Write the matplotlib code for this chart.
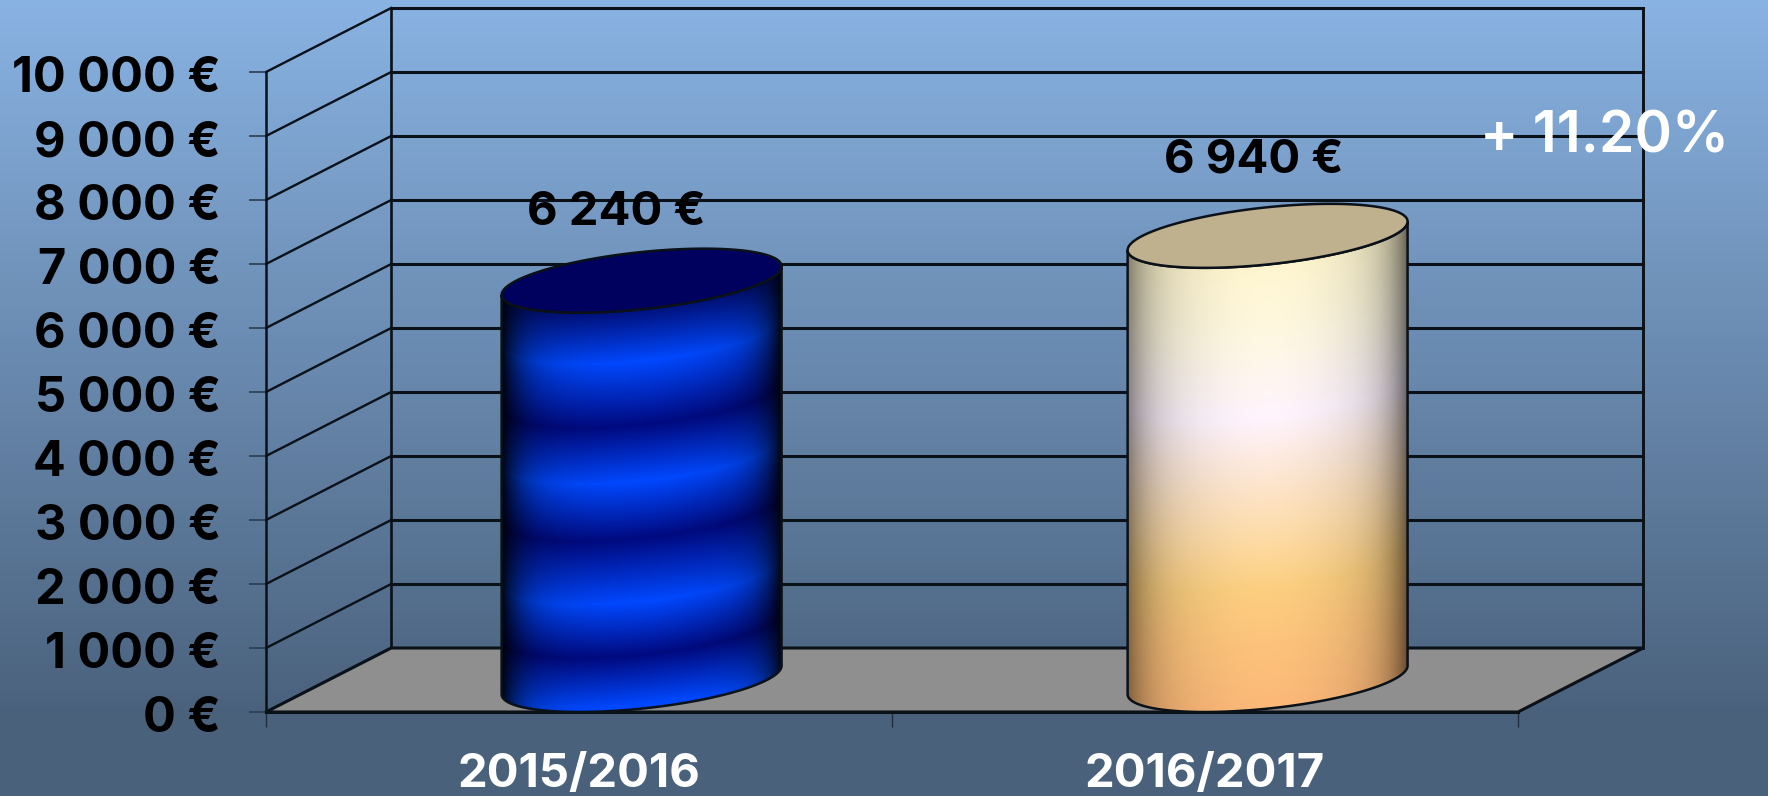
import numpy as np
import matplotlib
matplotlib.use('Agg')
import matplotlib.pyplot as plt
from matplotlib.patches import Polygon
from matplotlib.colors import to_rgb
from matplotlib.transforms import Affine2D

periods = ['2015/2016', '2016/2017']
amounts = [6240, 6940]
amount_labels = ['6 240 €', '6 940 €']
y_ticks = [0, 1000, 2000, 3000, 4000, 5000, 6000, 7000, 8000, 9000, 10000]
y_tick_labels = ['0 €', '1 000 €', '2 000 €', '3 000 €', '4 000 €', '5 000 €',
                 '6 000 €', '7 000 €', '8 000 €', '9 000 €', '10 000 €']
growth_label = '+ 11.20%'

W, H = 1768, 796
DEPTH_X, DEPTH_Y = 0.2, 1000   # oblique offset of the back wall, in data units
RADIUS = 0.2                   # half width of the cylinder base
LINE = '#0a1118'
plt.rcParams['font.family'] = ['Inter', 'DejaVu Sans']

# colour ramps, position along the cylinder then colour
blue_ramp = [(0.00, '#00107a'), (0.13, '#0048ff'), (0.29, '#000a80'), (0.43, '#0048ff'),
             (0.573, '#000a80'), (0.732, '#0048ff'), (0.866, '#000a80'), (0.99, '#0048ff'), (1.00, '#0048ff')]
cream_ramp = [(0.00, '#fff6cf'), (0.155, '#fff8e0'), (0.346, '#fff4fe'), (0.46, '#fde8d8'),
              (0.61, '#fedca8'), (0.73, '#fccf80'), (0.84, '#fdc47c'), (1.00, '#fbb878')]


def ramp_colours(ramp, s):
    pos = [r[0] for r in ramp]
    rgb = np.array([to_rgb(r[1]) for r in ramp])
    return np.stack([np.interp(s, pos, rgb[:, i]) for i in range(3)], axis=-1)


def ring(cx, cy, t):
    # circle lying on the floor plane, seen in the oblique projection
    x = cx + RADIUS * np.cos(t) + DEPTH_X / 2 * np.sin(t)
    y = cy + DEPTH_Y / 2 * np.sin(t)
    return x, y


def draw_cylinder(ax, pos, value, ramp, top_colour, wide, edge_left, edge_right):
    cx = pos + DEPTH_X / 2
    y0 = DEPTH_Y / 2
    y1 = y0 + value
    t0 = np.arctan2(DEPTH_X / 2, RADIUS)
    half = np.hypot(RADIUS, DEPTH_X / 2)
    tf = np.linspace(t0 - np.pi, t0, 200)   # front half of the ring, left to right

    bx, by = ring(cx, y0, tf)
    tx, ty = ring(cx, y1, tf)
    outline = np.r_[np.c_[bx, by], np.c_[tx[::-1], ty[::-1]]]

    # shaded side: colour follows the height above the front curve
    nx, ny = 300, 700
    xs = np.linspace(cx - half, cx + half, nx)
    ys = np.linspace(y0 - DEPTH_Y / 2, y1 + DEPTH_Y / 2, ny)
    xx, yy = np.meshgrid(xs, ys)
    front = np.interp(xx, bx, by) - y0
    s = np.clip(1 - (yy - y0 - front) / value, 0, 1)
    u = (xx - cx) / half
    edge = np.where(u < 0, edge_left, edge_right)
    shade = np.clip(1 - wide * u ** 2 - edge * np.abs(u) ** 7, 0, 1)
    img = ramp_colours(ramp, s) * shade[..., None]
    im = ax.imshow(img, extent=(xs[0], xs[-1], ys[0], ys[-1]), origin='lower',
                   aspect='auto', zorder=3, interpolation='bilinear')
    side = Polygon(outline, closed=True, transform=ax.transData, facecolor='none', edgecolor=LINE, lw=1.8, zorder=4)
    ax.add_patch(side)
    im.set_clip_path(side)
    side.set_clip_on(False)

    tt = np.linspace(0, 2 * np.pi, 300)
    topx, topy = ring(cx, y1, tt)
    ax.add_patch(Polygon(np.c_[topx, topy], closed=True, facecolor=top_colour, edgecolor=LINE, lw=1.8,
                         zorder=5, clip_on=False))


fig = plt.figure(figsize=(W / 100, H / 100), dpi=100)

# page background
bg = fig.add_axes([0, 0, 1, 1], zorder=0)
bg_pos = [0, 0.9, 1]
bg_top = np.array(to_rgb('#89b3e3'))
bg_bot = np.array(to_rgb('#4a617c'))
grad = np.linspace(0, 1, 796)
grad = np.interp(grad, bg_pos, [0, 1, 1])[:, None, None] * (bg_bot - bg_top) + bg_top
bg.imshow(grad, aspect='auto', extent=(0, 1, 0, 1))
bg.axis('off')

# main axes is the front plane of the chart
ax = fig.add_axes([266 / W, 1 - 712 / H, 1252 / W, 640 / H], zorder=1)
ax.patch.set_alpha(0)
ax.set_xlim(0, len(periods))
ax.set_ylim(0, 10000)
for sp in ax.spines.values():
    sp.set_visible(False)

xr = len(periods)
ax.add_patch(Polygon([(0, 0), (xr, 0), (xr + DEPTH_X, DEPTH_Y), (DEPTH_X, DEPTH_Y)], closed=True,
                     facecolor='#8f8f8f', edgecolor=LINE, lw=2.2, zorder=2, clip_on=False))
for v in y_ticks:
    if v > 0:
        ax.plot([DEPTH_X, xr + DEPTH_X], [v + DEPTH_Y] * 2, color=LINE, lw=2.2, zorder=1, clip_on=False)
    ax.plot([0, DEPTH_X], [v, v + DEPTH_Y], color=LINE, lw=1.7, zorder=1, clip_on=False)
ax.plot([0, 0], [0, 10000], color=LINE, lw=1.8, zorder=2, clip_on=False)
ax.plot([DEPTH_X] * 2, [DEPTH_Y, 10000 + DEPTH_Y], color=LINE, lw=1.9, zorder=1, clip_on=False)
ax.plot([xr + DEPTH_X] * 2, [DEPTH_Y, 10000 + DEPTH_Y], color=LINE, lw=2.1, zorder=1, clip_on=False)
ax.plot([0, xr], [0, 0], color=LINE, lw=2.2, zorder=2, clip_on=False)

draw_cylinder(ax, 0.5, amounts[0], blue_ramp, '#00005e', 0.2, 0.72, 0.72)
draw_cylinder(ax, 1.5, amounts[1], cream_ramp, '#bfb08e', 0.2, 0.28, 0.4)
ax.set_xlim(0, len(periods))
ax.set_ylim(0, 10000)

ax.set_yticks(y_ticks)
ax.set_yticklabels(y_tick_labels, fontsize=35, fontweight='bold', color='black')
ax.tick_params(axis='y', length=12, width=1.2, color='#2a3c50', pad=20.5)
for lab in ax.get_yticklabels():
    lab.set_transform(lab.get_transform() + Affine2D().translate(0, -2.5))
ax.set_xticks([0, 1, 2])
ax.set_xticklabels(['', '', ''])
ax.tick_params(axis='x', length=11, width=1, color='#1e2c3c')
for p, name in zip([0.5, 1.5], periods):
    ax.annotate(name, (p, 0), xytext=(0, -75), textcoords='offset pixels', ha='center', va='baseline',
                fontsize=34, fontweight='bold', color='white', annotation_clip=False)

label_x = [0.56, 1.578]
label_y = [7609, 8437]
for x, y, text in zip(label_x, label_y, amount_labels):
    ax.text(x, y, text, ha='center', va='baseline', fontsize=34, fontweight='bold', color='black', zorder=6)

ax.text(1.939, 8980, growth_label, ha='left', va='center', fontsize=41, fontweight='semibold',
        color='white', zorder=6, clip_on=False)

fig.savefig('out.png', dpi=100)
